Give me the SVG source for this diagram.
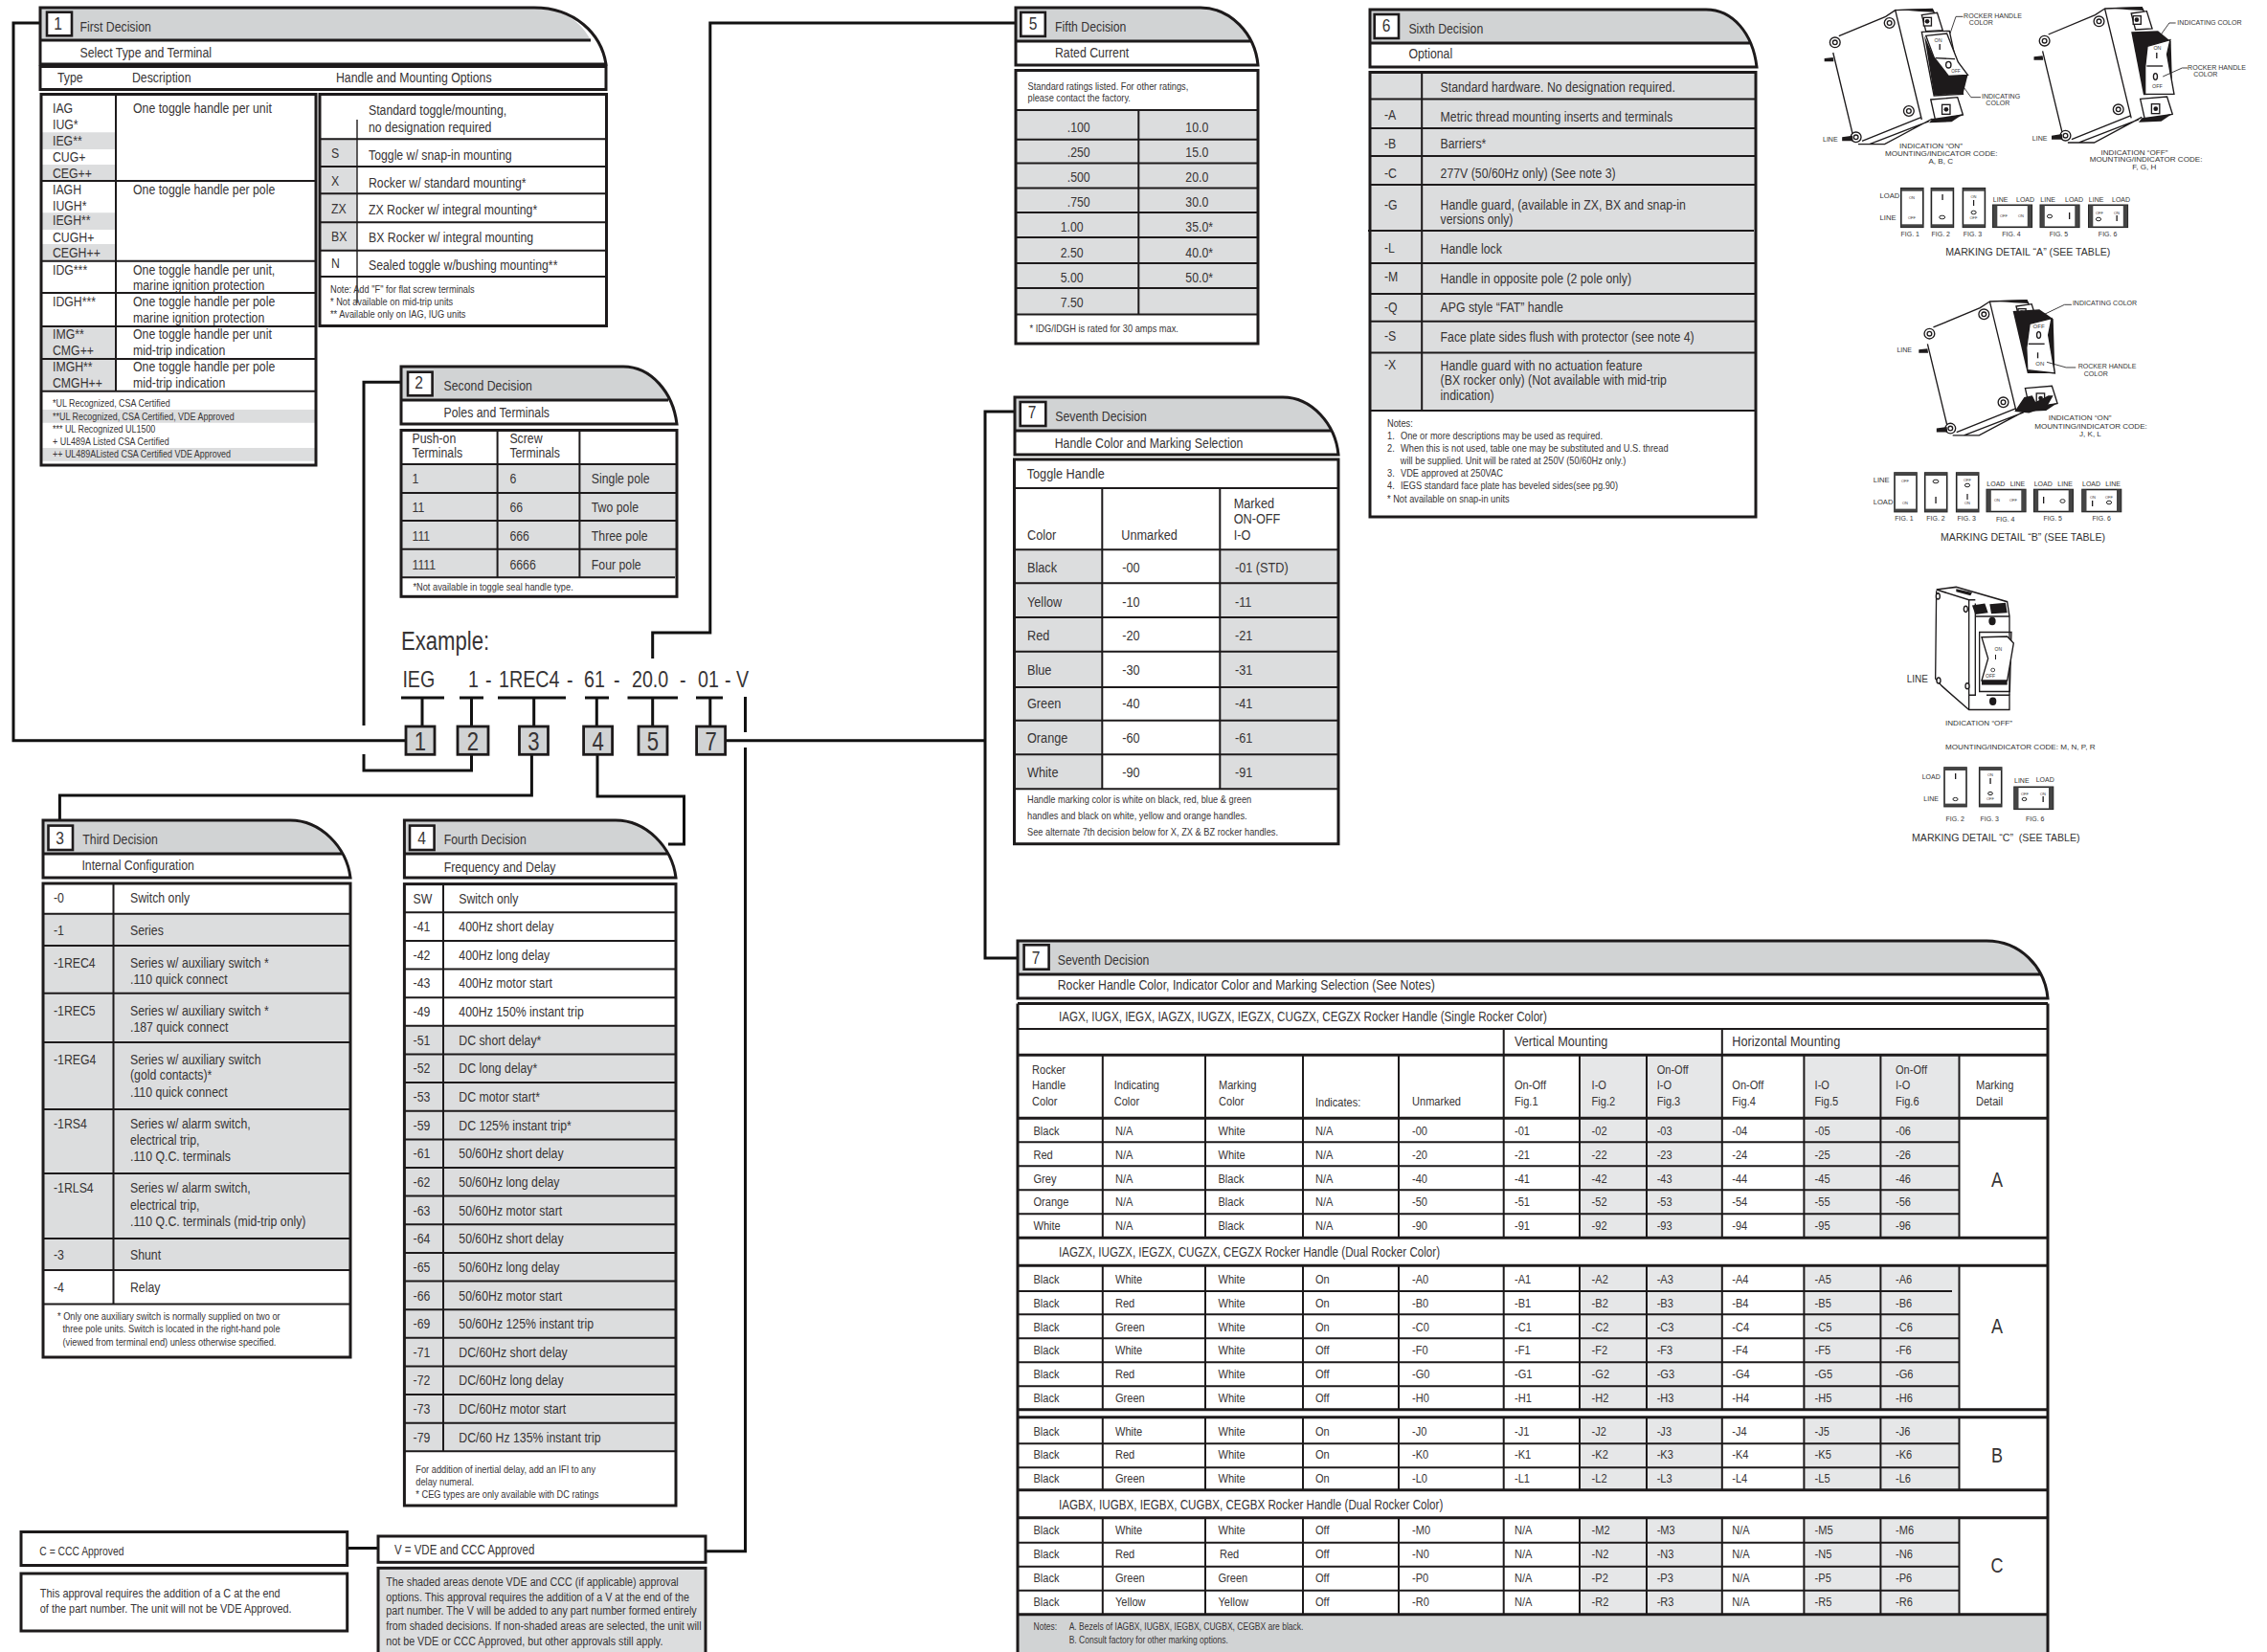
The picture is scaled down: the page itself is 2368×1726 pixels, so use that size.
<svg xmlns="http://www.w3.org/2000/svg" width="2368" height="1726" viewBox="0 0 2368 1726">
<style>
text{font-family:"Liberation Sans",Arial,sans-serif;fill:#373435;font-size:15px;transform-box:fill-box;transform-origin:0 0;transform:scaleX(.82)}
.num,.big,.m{transform-origin:50% 0}
.o{fill:none;stroke:#1d1a1b;stroke-width:3}
.i{fill:none;stroke:#1d1a1b;stroke-width:2}
.n{fill:none;stroke:#1d1a1b;stroke-width:1.4}
.h{fill:#d1d3d4}
.g{fill:#dcddde}
.l{fill:#e6e7e8}
.c{fill:none;stroke:#111;stroke-width:3}
.nb{fill:#fff;stroke:#1d1a1b;stroke-width:2.6}
.gb{fill:#d1d3d4;stroke:#1d1a1b;stroke-width:2.8}
.num{font-size:19px;text-anchor:middle}
.big{font-size:27px;text-anchor:middle}
.ex{font-size:24px}
.f11{font-size:11.3px}
.f10{font-size:10.9px}
.f13{font-size:13.3px}
.f131{font-size:13.1px}
.f135{font-size:13.5px}
.f142{font-size:14.2px}
.f105{font-size:10.4px}
.f155{font-size:15.5px}
.a{font-size:7px;fill:#333;transform:none}
.ac{font-size:8.1px;fill:#333;transform:none}
.a3{font-size:21px;fill:#333;transform:none}
.a4{font-size:24px;fill:#333;transform:none}
.am{font-size:10.6px;fill:#333;transform:none}
.at{font-size:4px;fill:#333;text-anchor:middle;transform:none}
.m{text-anchor:middle}
.d{fill:#1d1a1b}
.w{fill:#fff;stroke:#1d1a1b;stroke-width:4}
.u{fill:none;stroke:#1d1a1b;stroke-width:4}
.t{fill:none;stroke:#1d1a1b;stroke-width:2.5}
.fl{fill:#fff;stroke:#222;stroke-width:1.6}
.fb{fill:#444}
</style>
<defs>
<g id="brk">
<path class="u" d="M222,165L285,430M240,113L385,52L415,32L497,375M415,32L530,28L560,95"/>
<path class="u" d="M300,452H382L530,372M312,442L495,368M335,452L520,380"/>
<circle class="w" cx="228" cy="133" r="16"/><circle class="w" cx="228" cy="133" r="7"/>
<circle class="w" cx="397" cy="72" r="16"/><circle class="w" cx="397" cy="72" r="7"/>
<circle class="w" cx="457" cy="348" r="16"/><circle class="w" cx="457" cy="348" r="7"/>
<circle class="w" cx="293" cy="430" r="16"/><circle class="w" cx="293" cy="430" r="7"/>
<path class="w" d="M497,47L545,40L562,95L510,98Z"/><rect class="w" x="503" y="55" width="24" height="26"/><circle class="d" cx="514" cy="67" r="7"/>
<path class="d" d="M195,183L222,180L224,193L195,193ZM250,430L282,425L284,442L250,442Z"/>
<path class="d" d="M420,30L530,27L537,38L490,36Z"/>
</g>
<g id="bt"><path class="w" d="M525,312L608,305L625,360L540,380Z"/><rect class="w" x="560" y="328" width="25" height="30"/><circle class="d" cx="573" cy="343" r="7"/><path class="d" d="M530,372L625,358L590,382L520,385Z"/></g>
<g id="fv"><rect class="fl" x="0" y="0" width="23" height="40.6"/><rect class="fb" x="0" y="0" width="23" height="3"/><rect class="fb" x="0" y="37.6" width="23" height="3"/></g>
<g id="fh"><rect class="fl" x="0" y="0" width="40.5" height="23"/><rect class="fb" x="0" y="0" width="4.5" height="23"/><rect class="fb" x="36" y="0" width="4.5" height="23"/></g>
</defs>
<rect width="2368" height="1726" fill="#fff"/>

<g id="connectors">
<path class="c" d="M424,773.7H14V24H42"/>
<path class="c" d="M419,399.3H380V758M380,788V805H492.5V788"/>
<path class="c" d="M419,729H464M480,729H505M520,729H591M611,729H636M655.5,729H708M727,729H755"/>
<path class="c" d="M441,729V759M492.5,729V759M557.7,729V759M623.3,729V759M681.7,729V759M741.8,729V759"/>
<path class="c" d="M681.7,688V661H741.8V24H1061"/>
<path class="c" d="M757.4,773.7H1029M1060,430H1029V1001H1063"/>
<path class="c" d="M555.4,788V831H62.4V857"/>
<path class="c" d="M624,788V832H714.5V882H698"/>
<path class="c" d="M778.5,728V765M778.5,781V1620.7H737"/>
<path class="c" d="M362.7,1617.4H395"/>
</g>

<g id="example">
<text x="419" y="679.3" style="font-size:27px">Example:</text>
<text class="ex" x="420.4" y="718.3">IEG</text><text class="ex" x="489" y="718.3">1</text><text class="ex" x="507" y="718.3">-</text><text class="ex" x="521" y="718.3">1REC4</text><text class="ex" x="592" y="718.3">-</text><text class="ex" x="610" y="718.3">61</text><text class="ex" x="641" y="718.3">-</text><text class="ex" x="660" y="718.3">20.0</text><text class="ex" x="710" y="718.3">-</text><text class="ex" x="729" y="718.3">01</text><text class="ex" x="757" y="718.3">-</text><text class="ex" x="769" y="718.3">V</text>
<rect class="gb" x="424" y="759" width="30" height="29.3"/><text class="big" x="439" y="784">1</text>
<rect class="gb" x="478" y="759" width="32" height="29.3"/><text class="big" x="494" y="784">2</text>
<rect class="gb" x="542.5" y="759" width="30" height="29.3"/><text class="big" x="557.5" y="784">3</text>
<rect class="gb" x="609.6" y="759" width="30" height="29.3"/><text class="big" x="624.6" y="784">4</text>
<rect class="gb" x="667" y="759" width="30" height="29.3"/><text class="big" x="682" y="784">5</text>
<rect class="gb" x="727.6" y="759" width="30" height="29.3"/><text class="big" x="742.6" y="784">7</text>
</g>

<g id="panel1">
<path class="h" d="M42,8H558C590,8 608,25 617,42H42Z"/>
<path class="o" d="M42,8H558C600,8 628,35 633,67H42ZM42,42H617"/>
<rect class="nb" x="49" y="12.7" width="26" height="24.6"/><text class="num" x="60.6" y="31">1</text>
<text x="83.5" y="33.3">First Decision</text><text x="83.5" y="60">Select Type and Terminal</text>
<rect class="o" x="42" y="69.5" width="591" height="24"/>
<text x="60" y="86">Type</text><text x="138" y="86">Description</text><text x="351" y="86">Handle and Mounting Options</text>
<path class="g" d="M44,138.3H120V156H44ZM44,172H120V189H44ZM44,222.3H120V240H44ZM44,255H120V272.7H44ZM44,341H120V408.7H44ZM44,428H329V441.7H44ZM44,468H329V481.7H44Z"/>
<rect class="o" x="43" y="98.5" width="287" height="387.5"/>
<path class="i" d="M121,98.5V408.7M43,189H330M43,272.7H330M43,306H330M43,341H330M43,375H330M43,408.7H330"/>
<text x="55" y="117.7">IAG</text><text x="55" y="135">IUG*</text><text x="55" y="151.7">IEG**</text><text x="55" y="168.7">CUG+</text><text x="55" y="185.7">CEG++</text>
<text x="55" y="202.7">IAGH</text><text x="55" y="220">IUGH*</text><text x="55" y="235.3">IEGH**</text><text x="55" y="252.7">CUGH+</text><text x="55" y="269.3">CEGH++</text>
<text x="55" y="286.7">IDG***</text><text x="55" y="320.3">IDGH***</text><text x="55" y="353.7">IMG**</text><text x="55" y="370.7">CMG++</text><text x="55" y="387.7">IMGH**</text><text x="55" y="404.7">CMGH++</text>
<text x="139" y="117.7">One toggle handle per unit</text><text x="139" y="202.7">One toggle handle per pole</text>
<text x="139" y="286.7">One toggle handle per unit,</text><text x="139" y="303.3">marine ignition protection</text>
<text x="139" y="320.3">One toggle handle per pole</text><text x="139" y="337.3">marine ignition protection</text>
<text x="139" y="353.7">One toggle handle per unit</text><text x="139" y="370.7">mid-trip indication</text>
<text x="139" y="387.7">One toggle handle per pole</text><text x="139" y="404.7">mid-trip indication</text>
<text class="f10" x="55" y="425">*UL Recognized, CSA Certified</text><text class="f10" x="55" y="439">**UL Recognized, CSA Certified, VDE Approved</text><text class="f10" x="55" y="452.3">*** UL Recognized UL1500</text><text class="f10" x="55" y="465">+ UL489A Listed CSA Certified</text><text class="f10" x="55" y="477.7">++ UL489AListed CSA Certified VDE Approved</text>
</g>

<g id="panel1b">
<path class="g" d="M335,145.3H373V261.7H335Z"/>
<rect class="o" x="334" y="98.5" width="299.5" height="242"/>
<path class="i" d="M334,145.3H633M334,174H633M334,202.3H633M334,232.3H633M334,261.7H633M334,289H633"/>
<path class="n" d="M373,125V316.7"/>
<text x="385" y="120">Standard toggle/mounting,</text><text x="385" y="138.3">no designation required</text>
<text x="346" y="165">S</text><text x="385" y="166.7">Toggle w/ snap-in mounting</text>
<text x="346" y="194">X</text><text x="385" y="195.7">Rocker w/ standard mounting*</text>
<text x="346" y="223.3">ZX</text><text x="385" y="224">ZX Rocker w/ integral mounting*</text>
<text x="346" y="251.7">BX</text><text x="385" y="252.7">BX Rocker w/ integral mounting</text>
<text x="346" y="280">N</text><text x="385" y="282">Sealed toggle w/bushing mounting**</text>
<text class="f11" x="345" y="305.7">Note: Add "F" for flat screw terminals</text><text class="f11" x="345" y="319">* Not available on mid-trip units</text><text class="f11" x="345" y="331.7">** Available only on IAG, IUG units</text>
</g>

<g id="panel2">
<path class="h" d="M419,383H651C672,383 690,398 698,418H419Z"/>
<path class="o" d="M419,383H651C680,383 703,410 707,443H419ZM419,418H698"/>
<rect class="nb" x="426" y="388.7" width="25.6" height="24.6"/><text class="num" x="437.6" y="406">2</text>
<text x="463.6" y="408.3">Second Decision</text><text x="463.6" y="436">Poles and Terminals</text>
<rect class="g" x="420" y="485" width="286" height="118"/>
<rect class="o" x="419" y="449.5" width="288" height="173.8"/>
<path class="i" d="M419,485H707M419,515H707M419,544H707M419,573.7H707M419,603.3H705M519.6,449.5V603.3M605.4,449.5V603.3"/>
<text x="430.5" y="462.7">Push-on</text><text x="430.5" y="477.7">Terminals</text><text x="532.4" y="462.7">Screw</text><text x="532.4" y="477.7">Terminals</text>
<text x="430.5" y="505">1</text><text x="532.4" y="505">6</text><text x="617.8" y="505">Single pole</text>
<text x="430.5" y="535">11</text><text x="532.4" y="535">66</text><text x="617.8" y="535">Two pole</text>
<text x="430.5" y="565">111</text><text x="532.4" y="565">666</text><text x="617.8" y="565">Three pole</text>
<text x="430.5" y="595">1111</text><text x="532.4" y="595">6666</text><text x="617.8" y="595">Four pole</text>
<text class="f11" x="431.4" y="616.7">*Not available in toggle seal handle type.</text>
</g>

<g id="panel3">
<path class="h" d="M45,857H303C328,857 350,873 358,892H45Z"/>
<path class="o" d="M45,857H303C335,857 362,885 366,917H45ZM45,892H358"/>
<rect class="nb" x="50.5" y="862.6" width="25.5" height="25.4"/><text class="num" x="62.5" y="882">3</text>
<text x="86.3" y="882.4">Third Decision</text><text x="85.4" y="909.5">Internal Configuration</text>
<rect class="g" x="46" y="954.7" width="319" height="372.3"/>
<rect class="o" x="45" y="923" width="321" height="495"/>
<path class="i" d="M118.5,923V1362.6M45,954.7H366M45,988H366M45,1037.7H366M45,1089H366M45,1159H366M45,1226H366M45,1294H366M45,1327H366M45,1362.6H366"/>
<text x="56" y="943.4">-0</text><text x="136" y="943.4">Switch only</text>
<text x="56" y="977.3">-1</text><text x="136" y="977.3">Series</text>
<text x="56" y="1010.6">-1REC4</text><text x="136" y="1010.6">Series w/ auxiliary switch *</text><text x="136" y="1027.6">.110 quick connect</text>
<text x="56" y="1061.5">-1REC5</text><text x="136" y="1061.5">Series w/ auxiliary switch *</text><text x="136" y="1078.4">.187 quick connect</text>
<text x="56" y="1112.3">-1REG4</text><text x="136" y="1112.3">Series w/ auxiliary switch</text><text x="136" y="1128.5">(gold contacts)*</text><text x="136" y="1145.6">.110 quick connect</text>
<text x="56" y="1179">-1RS4</text><text x="136" y="1179">Series w/ alarm switch,</text><text x="136" y="1196.5">electrical trip,</text><text x="136" y="1213.4">.110 Q.C. terminals</text>
<text x="56" y="1246">-1RLS4</text><text x="136" y="1246">Series w/ alarm switch,</text><text x="136" y="1263.7">electrical trip,</text><text x="136" y="1280.7">.110 Q.C. terminals (mid-trip only)</text>
<text x="56" y="1316">-3</text><text x="136" y="1316">Shunt</text>
<text x="56" y="1349.6">-4</text><text x="136" y="1349.6">Relay</text>
<text class="f11" x="60" y="1379.5">*  Only one auxiliary switch is normally supplied on two or</text><text class="f11" x="65.5" y="1392.5">three pole units. Switch is located in the right-hand pole</text><text class="f11" x="65.5" y="1406">(viewed from terminal end) unless otherwise specified.</text>
</g>

<g id="panel4">
<path class="h" d="M422.4,857H643C668,857 690,873 698,892H422.4Z"/>
<path class="o" d="M422.4,857H643C675,857 702,885 706,917H422.4ZM422.4,892H698"/>
<rect class="nb" x="428" y="862.6" width="25.6" height="25.4"/><text class="num" x="440.5" y="882">4</text>
<text x="463.7" y="882.4">Fourth Decision</text><text x="463.7" y="910.6">Frequency and Delay</text>
<rect class="g" x="423" y="1071" width="282" height="445.3"/>
<rect class="o" x="422.4" y="923.6" width="283.6" height="649.4"/>
<path class="i" d="M463,923.6V1516.3M422,953.2H706M422,982.9H706M422,1012.5H706M422,1042.2H706M422,1071.8H706M422,1101.4H706M422,1131.1H706M422,1160.7H706M422,1190.4H706M422,1220H706M422,1249.6H706M422,1279.3H706M422,1308.9H706M422,1338.6H706M422,1368.2H706M422,1397.8H706M422,1427.5H706M422,1457.1H706M422,1486.8H706M422,1516.3H706"/>
<text x="431.6" y="943.6">SW</text><text x="479.3" y="943.6">Switch only</text>
<text x="431.6" y="973.2">-41</text><text x="479.3" y="973.2">400Hz short delay</text>
<text x="431.6" y="1002.9">-42</text><text x="479.3" y="1002.9">400Hz long delay</text>
<text x="431.6" y="1032.5">-43</text><text x="479.3" y="1032.5">400Hz motor start</text>
<text x="431.6" y="1062.2">-49</text><text x="479.3" y="1062.2">400Hz 150% instant trip</text>
<text x="431.6" y="1091.8">-51</text><text x="479.3" y="1091.8">DC short delay*</text>
<text x="431.6" y="1121.4">-52</text><text x="479.3" y="1121.4">DC long delay*</text>
<text x="431.6" y="1151.1">-53</text><text x="479.3" y="1151.1">DC motor start*</text>
<text x="431.6" y="1180.7">-59</text><text x="479.3" y="1180.7">DC 125% instant trip*</text>
<text x="431.6" y="1210.4">-61</text><text x="479.3" y="1210.4">50/60Hz short delay</text>
<text x="431.6" y="1240">-62</text><text x="479.3" y="1240">50/60Hz long delay</text>
<text x="431.6" y="1269.6">-63</text><text x="479.3" y="1269.6">50/60Hz motor start</text>
<text x="431.6" y="1299.3">-64</text><text x="479.3" y="1299.3">50/60Hz short delay</text>
<text x="431.6" y="1328.9">-65</text><text x="479.3" y="1328.9">50/60Hz long delay</text>
<text x="431.6" y="1358.6">-66</text><text x="479.3" y="1358.6">50/60Hz motor start</text>
<text x="431.6" y="1388.2">-69</text><text x="479.3" y="1388.2">50/60Hz 125% instant trip</text>
<text x="431.6" y="1417.8">-71</text><text x="479.3" y="1417.8">DC/60Hz short delay</text>
<text x="431.6" y="1447.5">-72</text><text x="479.3" y="1447.5">DC/60Hz long delay</text>
<text x="431.6" y="1477.1">-73</text><text x="479.3" y="1477.1">DC/60Hz motor start</text>
<text x="431.6" y="1506.8">-79</text><text x="479.3" y="1506.8">DC/60 Hz 135% instant trip</text>
<text class="f11" x="434.3" y="1538.9">For addition of inertial delay, add an IFI to any</text><text class="f11" x="434.3" y="1552">delay numeral.</text><text class="f11" x="434.3" y="1565">* CEG types are only available with DC ratings</text>
</g>

<g id="approvalC">
<rect class="o" x="22" y="1600.5" width="340.7" height="35"/><text style="font-size:12.6px" x="41.3" y="1625">C = CCC Approved</text>
<rect class="o" x="22" y="1644" width="340.7" height="60"/><text class="f13" x="41.8" y="1669.4">This approval requires the addition of a C at the end</text><text class="f13" x="41.8" y="1684.6">of the part number.  The unit will not be VDE Approved.</text>
</g>
<g id="approvalV">
<rect class="o" x="395" y="1605" width="342" height="27.3"/><text style="font-size:14px" x="412" y="1624.3">V = VDE  and CCC Approved</text>
<rect x="395" y="1638.3" width="342" height="90" fill="#dcddde" stroke="#1d1a1b" stroke-width="3"/>
<text class="f131" x="403.3" y="1657.3">The shaded areas denote VDE and CCC (if applicable) approval</text>
<text class="f131" x="403.3" y="1672.7">options. This approval requires the addition of a V at the end of the</text>
<text class="f131" x="403.3" y="1687.3">part number. The V will be added to any part number formed entirely</text>
<text class="f131" x="403.3" y="1702.7">from shaded decisions. If non-shaded areas are selected, the unit will</text>
<text class="f131" x="403.3" y="1719">not be VDE or CCC Approved, but other approvals still apply.</text>
</g>

<g id="panel5">
<path class="h" d="M1061,8H1254C1278,8 1297,23 1306,43H1061Z"/>
<path class="o" d="M1061,8H1254C1285,8 1311,35 1314,68H1061ZM1061,43H1306"/>
<rect class="nb" x="1066.3" y="12.9" width="25.5" height="25"/><text class="num" x="1079" y="31.4">5</text>
<text x="1102" y="33">Fifth Decision</text><text x="1102" y="60">Rated Current</text>
<rect class="g" x="1062" y="115" width="251" height="213.6"/>
<rect class="o" x="1061" y="73.5" width="253" height="285.5"/>
<path class="i" d="M1061,115H1314M1061,145.7H1314M1061,170.4H1314M1061,196.4H1314M1061,222H1314M1061,248H1314M1061,275H1314M1061,301H1314M1061,328.6H1314M1189.3,115V328.6"/>
<text class="f11" x="1073.5" y="94">Standard ratings listed. For other ratings,</text><text class="f11" x="1073.5" y="106.4">please contact the factory.</text>
<text x="1114.8" y="138">.100</text><text x="1238.3" y="138">10.0</text>
<text x="1114.8" y="164">.250</text><text x="1238.3" y="164">15.0</text>
<text x="1114.8" y="190.4">.500</text><text x="1238.3" y="190.4">20.0</text>
<text x="1114.8" y="216">.750</text><text x="1238.3" y="216">30.0</text>
<text x="1107.7" y="242">1.00</text><text x="1238.3" y="242">35.0*</text>
<text x="1107.7" y="268.6">2.50</text><text x="1238.3" y="268.6">40.0*</text>
<text x="1107.7" y="295">5.00</text><text x="1238.3" y="295">50.0*</text>
<text x="1107.7" y="321">7.50</text>
<text class="f11" x="1075.5" y="347">* IDG/IDGH is rated for 30 amps max.</text>
</g>

<g id="panel6">
<path class="h" d="M1431,10H1782C1803,10 1820,24 1829,45H1431Z"/>
<path class="o" d="M1431,10H1782C1810,10 1831,35 1835,70H1431ZM1431,45H1829"/>
<rect class="nb" x="1435.7" y="15" width="25.3" height="25"/><text class="num" x="1448" y="33">6</text>
<text x="1471.4" y="35">Sixth Decision</text><text x="1471.4" y="61.4">Optional</text>
<rect class="g" x="1431" y="75.5" width="403" height="353.5"/>
<rect class="o" x="1431" y="75.5" width="403" height="464.5"/>
<path class="i" d="M1485.2,75.5V429M1431,103.6H1834M1431,134H1834M1431,163H1834M1431,193H1834M1429,241H1832M1431,275H1834M1431,307H1834M1431,335.7H1834M1431,368.6H1834M1431,429H1834"/>
<text x="1504.6" y="96.4">Standard hardware. No designation required.</text>
<text x="1446" y="125">-A</text><text x="1504.6" y="126.8">Metric thread mounting inserts and terminals</text>
<text x="1446" y="155">-B</text><text x="1504.6" y="155.4">Barriers*</text>
<text x="1446" y="186.4">-C</text><text x="1504.6" y="185.7">277V (50/60Hz only) (See note 3)</text>
<text x="1446" y="218.6">-G</text><text x="1504.6" y="218.6">Handle guard, (available in ZX, BX and snap-in</text><text x="1504.6" y="234">versions only)</text>
<text x="1446" y="263.6">-L</text><text x="1504.6" y="265.4">Handle lock</text>
<text x="1446" y="293.6">-M</text><text x="1504.6" y="296.4">Handle in opposite pole (2 pole only)</text>
<text x="1446" y="325.7">-Q</text><text x="1504.6" y="325.7">APG style “FAT” handle</text>
<text x="1446" y="356.4">-S</text><text x="1504.6" y="357">Face plate sides flush with protector (see note 4)</text>
<text x="1446" y="385.7">-X</text><text x="1504.6" y="387.5">Handle guard with no actuation feature</text><text x="1504.6" y="402.5">(BX rocker only) (Not available with mid-trip</text><text x="1504.6" y="418">indication)</text>
<text class="f11" x="1449" y="446.4">Notes:</text>
<text class="f11" x="1449" y="459.3">1.</text><text class="f11" x="1463" y="459.3">One or more descriptions may be used as required.</text>
<text class="f11" x="1449" y="472">2.</text><text class="f11" x="1463" y="472">When this is not used, table one may be substituted and U.S. thread</text><text class="f11" x="1463" y="485">will be supplied. Unit will be rated at 250V (50/60Hz only.)</text>
<text class="f11" x="1449" y="498">3.</text><text class="f11" x="1463" y="498">VDE approved at 250VAC</text>
<text class="f11" x="1449" y="511.4">4.</text><text class="f11" x="1463" y="511.4">IEGS standard face plate has beveled sides(see pg.90)</text>
<text class="f11" x="1449" y="525">* Not available on snap-in units</text>
</g>

<g id="panel7a">
<path class="h" d="M1060,415H1340C1362,415 1382,430 1390,450H1060Z"/>
<path class="o" d="M1060,415H1340C1370,415 1395,443 1398,475H1060ZM1060,450H1390"/>
<rect class="nb" x="1065.7" y="420" width="26.6" height="25"/><text class="num" x="1078" y="437.3">7</text>
<text x="1102.3" y="440">Seventh Decision</text><text x="1101.7" y="467.7">Handle Color and Marking Selection</text>
<path class="g" d="M1060,574.3H1151V824H1060ZM1274,574.3H1397V824H1274Z"/>
<rect class="o" x="1059.5" y="480" width="338.5" height="401.7"/>
<path class="i" d="M1059,510H1398M1059,574.3H1398M1059,609.3H1398M1059,645H1398M1059,680.7H1398M1059,718H1398M1059,752.7H1398M1059,788.3H1398M1059,824.3H1398M1151.3,510V824.3M1274.3,510V824.3"/>
<text class="f155" x="1072.7" y="500">Toggle Handle</text>
<text class="f155" x="1073" y="564">Color</text><text class="f155" x="1171.3" y="564">Unmarked</text><text class="f155" x="1288.7" y="531">Marked</text><text class="f155" x="1288.7" y="547.3">ON-OFF</text><text class="f155" x="1288.7" y="564">I-O</text>
<text class="f155" x="1073" y="598.3">Black</text><text class="f155" x="1172.3" y="598.3">-00</text><text class="f155" x="1290" y="598.3">-01 (STD)</text>
<text class="f155" x="1073" y="634.3">Yellow</text><text class="f155" x="1172.3" y="634.3">-10</text><text class="f155" x="1290" y="634.3">-11</text>
<text class="f155" x="1073" y="669.3">Red</text><text class="f155" x="1172.3" y="669.3">-20</text><text class="f155" x="1290" y="669.3">-21</text>
<text class="f155" x="1073" y="705.3">Blue</text><text class="f155" x="1172.3" y="705.3">-30</text><text class="f155" x="1290" y="705.3">-31</text>
<text class="f155" x="1073" y="740.3">Green</text><text class="f155" x="1172.3" y="740.3">-40</text><text class="f155" x="1290" y="740.3">-41</text>
<text class="f155" x="1073" y="776">Orange</text><text class="f155" x="1172.3" y="776">-60</text><text class="f155" x="1290" y="776">-61</text>
<text class="f155" x="1073" y="812">White</text><text class="f155" x="1172.3" y="812">-90</text><text class="f155" x="1290" y="812">-91</text>
<text class="f11" x="1073" y="838.7">Handle marking color is white on black, red, blue &amp; green</text><text class="f11" x="1073" y="855.7">handles and black on white, yellow and orange handles.</text><text class="f11" x="1073" y="872.7">See alternate 7th decision below for X, ZX &amp; BZ rocker handles.</text>
</g>

<g id="panel7b">
<path class="h" d="M1063,983H2075C2098,983 2121,998 2131,1018H1063Z"/>
<path class="o" d="M1063,983H2075C2110,983 2136,1010 2139,1043H1063ZM1063,1018H2131"/>
<rect class="nb" x="1069.6" y="987.3" width="26" height="25.4"/><text class="num" x="1082" y="1006.7">7</text>
<text x="1104.7" y="1007.7">Seventh Decision</text><text x="1104.7" y="1034.3">Rocker Handle Color, Indicator Color and Marking Selection (See Notes)</text>
<path class="l" d="M1650,1102.3H1798.8V1293.3H1650ZM1884.4,1102.3H2046.5V1293.3H1884.4ZM1650,1322.3H1798.8V1472.7H1650ZM1884.4,1322.3H2046.5V1472.7H1884.4ZM1650,1480.7H1798.8V1556.7H1650ZM1884.4,1480.7H2046.5V1556.7H1884.4ZM1650,1585.7H1798.8V1686.7H1650ZM1884.4,1585.7H2046.5V1686.7H1884.4Z"/>
<rect class="h" x="1063" y="1686.7" width="1076" height="40"/>
<path class="o" d="M1063,1048.5H2139M1063,1048.5V1726M2139,1048.5V1726M1063,1102.3H2139M1063,1168.3H2139M1063,1293.3H2139M1063,1322.3H2139M1063,1472.7H2139M1063,1480.7H2139M1063,1556.7H2139M1063,1585.7H2139M1063,1686.7H2139"/>
<path class="i" d="M1063,1075H2139M1063,1193.3H2046.5M1063,1218.3H2046.5M1063,1243.3H2046.5M1063,1268.3H2046.5M1063,1349H2039M1063,1373.3H2046.5M1063,1398.3H2046.5M1063,1423.3H2046.5M1063,1448.3H2046.5M1063,1508.3H2046.5M1063,1533.3H2046.5M1063,1611.7H2046.5M1063,1636.7H2046.5M1063,1661.7H2046.5"/>
<path class="i" d="M1151.8,1102.3V1293.3M1259,1102.3V1293.3M1361,1102.3V1293.3M1461,1102.3V1293.3M1570.7,1075V1293.3M1650,1102.3V1293.3M1720,1102.3V1293.3M1798.8,1075V1293.3M1884.4,1102.3V1293.3M1964.4,1102.3V1293.3M2046.5,1102.3V1293.3"/>
<path class="i" d="M1151.8,1322.3V1472.7M1259,1322.3V1472.7M1361,1322.3V1472.7M1461,1322.3V1472.7M1570.7,1322.3V1472.7M1650,1322.3V1472.7M1720,1322.3V1472.7M1798.8,1322.3V1472.7M1884.4,1322.3V1472.7M1964.4,1322.3V1472.7M2046.5,1322.3V1472.7"/>
<path class="i" d="M1151.8,1480.7V1556.7M1259,1480.7V1556.7M1361,1480.7V1556.7M1461,1480.7V1556.7M1570.7,1480.7V1556.7M1650,1480.7V1556.7M1720,1480.7V1556.7M1798.8,1480.7V1556.7M1884.4,1480.7V1556.7M1964.4,1480.7V1556.7M2046.5,1480.7V1556.7"/>
<path class="i" d="M1151.8,1585.7V1686.7M1259,1585.7V1686.7M1361,1585.7V1686.7M1461,1585.7V1686.7M1570.7,1585.7V1686.7M1650,1585.7V1686.7M1720,1585.7V1686.7M1798.8,1585.7V1686.7M1884.4,1585.7V1686.7M1964.4,1585.7V1686.7M2046.5,1585.7V1686.7"/>
<text class="f142" x="1106" y="1067.3">IAGX, IUGX, IEGX, IAGZX, IUGZX, IEGZX, CUGZX, CEGZX Rocker Handle (Single Rocker Color)</text>
<text class="f155" x="1582" y="1093.3">Vertical Mounting</text><text class="f155" x="1809.3" y="1093.3">Horizontal Mounting</text>
<text class="f135" x="1078" y="1121.7">Rocker</text><text class="f135" x="1078" y="1138.3">Handle</text><text class="f135" x="1078" y="1155">Color</text>
<text class="f135" x="1163.7" y="1138.3">Indicating</text><text class="f135" x="1163.7" y="1155">Color</text>
<text class="f135" x="1273" y="1138.3">Marking</text><text class="f135" x="1273" y="1155">Color</text>
<text class="f135" x="1374" y="1155.7">Indicates:</text><text class="f135" x="1475" y="1155">Unmarked</text>
<text class="f135" x="1582" y="1138.3">On-Off</text><text class="f135" x="1582" y="1155">Fig.1</text>
<text class="f135" x="1662.6" y="1138.3">I-O</text><text class="f135" x="1662.6" y="1155">Fig.2</text>
<text class="f135" x="1730.7" y="1121.7">On-Off</text><text class="f135" x="1730.7" y="1138.3">I-O</text><text class="f135" x="1730.7" y="1155">Fig.3</text>
<text class="f135" x="1809.3" y="1138.3">On-Off</text><text class="f135" x="1809.3" y="1155">Fig.4</text>
<text class="f135" x="1895.6" y="1138.3">I-O</text><text class="f135" x="1895.6" y="1155">Fig.5</text>
<text class="f135" x="1980" y="1121.7">On-Off</text><text class="f135" x="1980" y="1138.3">I-O</text><text class="f135" x="1980" y="1155">Fig.6</text>
<text class="f135" x="2064" y="1138.3">Marking</text><text class="f135" x="2064" y="1155">Detail</text>
<g id="rows">
<text class="f135" x="1079.5" y="1186">Black</text><text class="f135" x="1165" y="1186">N/A</text><text class="f135" x="1272.5" y="1186">White</text><text class="f135" x="1374" y="1186">N/A</text><text class="f135" x="1475" y="1186">-00</text><text class="f135" x="1582" y="1186">-01</text><text class="f135" x="1662.6" y="1186">-02</text><text class="f135" x="1730.7" y="1186">-03</text><text class="f135" x="1809.3" y="1186">-04</text><text class="f135" x="1895.6" y="1186">-05</text><text class="f135" x="1980" y="1186">-06</text>
<text class="f135" x="1079.5" y="1210.7">Red</text><text class="f135" x="1165" y="1210.7">N/A</text><text class="f135" x="1272.5" y="1210.7">White</text><text class="f135" x="1374" y="1210.7">N/A</text><text class="f135" x="1475" y="1210.7">-20</text><text class="f135" x="1582" y="1210.7">-21</text><text class="f135" x="1662.6" y="1210.7">-22</text><text class="f135" x="1730.7" y="1210.7">-23</text><text class="f135" x="1809.3" y="1210.7">-24</text><text class="f135" x="1895.6" y="1210.7">-25</text><text class="f135" x="1980" y="1210.7">-26</text>
<text class="f135" x="1079.5" y="1236">Grey</text><text class="f135" x="1165" y="1236">N/A</text><text class="f135" x="1272.5" y="1236">Black</text><text class="f135" x="1374" y="1236">N/A</text><text class="f135" x="1475" y="1236">-40</text><text class="f135" x="1582" y="1236">-41</text><text class="f135" x="1662.6" y="1236">-42</text><text class="f135" x="1730.7" y="1236">-43</text><text class="f135" x="1809.3" y="1236">-44</text><text class="f135" x="1895.6" y="1236">-45</text><text class="f135" x="1980" y="1236">-46</text>
<text class="f135" x="1079.5" y="1260">Orange</text><text class="f135" x="1165" y="1260">N/A</text><text class="f135" x="1272.5" y="1260">Black</text><text class="f135" x="1374" y="1260">N/A</text><text class="f135" x="1475" y="1260">-50</text><text class="f135" x="1582" y="1260">-51</text><text class="f135" x="1662.6" y="1260">-52</text><text class="f135" x="1730.7" y="1260">-53</text><text class="f135" x="1809.3" y="1260">-54</text><text class="f135" x="1895.6" y="1260">-55</text><text class="f135" x="1980" y="1260">-56</text>
<text class="f135" x="1079.5" y="1285">White</text><text class="f135" x="1165" y="1285">N/A</text><text class="f135" x="1272.5" y="1285">Black</text><text class="f135" x="1374" y="1285">N/A</text><text class="f135" x="1475" y="1285">-90</text><text class="f135" x="1582" y="1285">-91</text><text class="f135" x="1662.6" y="1285">-92</text><text class="f135" x="1730.7" y="1285">-93</text><text class="f135" x="1809.3" y="1285">-94</text><text class="f135" x="1895.6" y="1285">-95</text><text class="f135" x="1980" y="1285">-96</text>
<text class="f142" x="1106" y="1312.7">IAGZX, IUGZX, IEGZX, CUGZX, CEGZX Rocker Handle (Dual Rocker Color)</text>
<text class="f135" x="1079.5" y="1341">Black</text><text class="f135" x="1165" y="1341">White</text><text class="f135" x="1272.5" y="1341">White</text><text class="f135" x="1374" y="1341">On</text><text class="f135" x="1475" y="1341">-A0</text><text class="f135" x="1582" y="1341">-A1</text><text class="f135" x="1662.6" y="1341">-A2</text><text class="f135" x="1730.7" y="1341">-A3</text><text class="f135" x="1809.3" y="1341">-A4</text><text class="f135" x="1895.6" y="1341">-A5</text><text class="f135" x="1980" y="1341">-A6</text>
<text class="f135" x="1079.5" y="1366">Black</text><text class="f135" x="1165" y="1366">Red</text><text class="f135" x="1272.5" y="1366">White</text><text class="f135" x="1374" y="1366">On</text><text class="f135" x="1475" y="1366">-B0</text><text class="f135" x="1582" y="1366">-B1</text><text class="f135" x="1662.6" y="1366">-B2</text><text class="f135" x="1730.7" y="1366">-B3</text><text class="f135" x="1809.3" y="1366">-B4</text><text class="f135" x="1895.6" y="1366">-B5</text><text class="f135" x="1980" y="1366">-B6</text>
<text class="f135" x="1079.5" y="1390.7">Black</text><text class="f135" x="1165" y="1390.7">Green</text><text class="f135" x="1272.5" y="1390.7">White</text><text class="f135" x="1374" y="1390.7">On</text><text class="f135" x="1475" y="1390.7">-C0</text><text class="f135" x="1582" y="1390.7">-C1</text><text class="f135" x="1662.6" y="1390.7">-C2</text><text class="f135" x="1730.7" y="1390.7">-C3</text><text class="f135" x="1809.3" y="1390.7">-C4</text><text class="f135" x="1895.6" y="1390.7">-C5</text><text class="f135" x="1980" y="1390.7">-C6</text>
<text class="f135" x="1079.5" y="1415">Black</text><text class="f135" x="1165" y="1415">White</text><text class="f135" x="1272.5" y="1415">White</text><text class="f135" x="1374" y="1415">Off</text><text class="f135" x="1475" y="1415">-F0</text><text class="f135" x="1582" y="1415">-F1</text><text class="f135" x="1662.6" y="1415">-F2</text><text class="f135" x="1730.7" y="1415">-F3</text><text class="f135" x="1809.3" y="1415">-F4</text><text class="f135" x="1895.6" y="1415">-F5</text><text class="f135" x="1980" y="1415">-F6</text>
<text class="f135" x="1079.5" y="1440">Black</text><text class="f135" x="1165" y="1440">Red</text><text class="f135" x="1272.5" y="1440">White</text><text class="f135" x="1374" y="1440">Off</text><text class="f135" x="1475" y="1440">-G0</text><text class="f135" x="1582" y="1440">-G1</text><text class="f135" x="1662.6" y="1440">-G2</text><text class="f135" x="1730.7" y="1440">-G3</text><text class="f135" x="1809.3" y="1440">-G4</text><text class="f135" x="1895.6" y="1440">-G5</text><text class="f135" x="1980" y="1440">-G6</text>
<text class="f135" x="1079.5" y="1465">Black</text><text class="f135" x="1165" y="1465">Green</text><text class="f135" x="1272.5" y="1465">White</text><text class="f135" x="1374" y="1465">Off</text><text class="f135" x="1475" y="1465">-H0</text><text class="f135" x="1582" y="1465">-H1</text><text class="f135" x="1662.6" y="1465">-H2</text><text class="f135" x="1730.7" y="1465">-H3</text><text class="f135" x="1809.3" y="1465">-H4</text><text class="f135" x="1895.6" y="1465">-H5</text><text class="f135" x="1980" y="1465">-H6</text>
<text class="f135" x="1079.5" y="1500">Black</text><text class="f135" x="1165" y="1500">White</text><text class="f135" x="1272.5" y="1500">White</text><text class="f135" x="1374" y="1500">On</text><text class="f135" x="1475" y="1500">-J0</text><text class="f135" x="1582" y="1500">-J1</text><text class="f135" x="1662.6" y="1500">-J2</text><text class="f135" x="1730.7" y="1500">-J3</text><text class="f135" x="1809.3" y="1500">-J4</text><text class="f135" x="1895.6" y="1500">-J5</text><text class="f135" x="1980" y="1500">-J6</text>
<text class="f135" x="1079.5" y="1524.3">Black</text><text class="f135" x="1165" y="1524.3">Red</text><text class="f135" x="1272.5" y="1524.3">White</text><text class="f135" x="1374" y="1524.3">On</text><text class="f135" x="1475" y="1524.3">-K0</text><text class="f135" x="1582" y="1524.3">-K1</text><text class="f135" x="1662.6" y="1524.3">-K2</text><text class="f135" x="1730.7" y="1524.3">-K3</text><text class="f135" x="1809.3" y="1524.3">-K4</text><text class="f135" x="1895.6" y="1524.3">-K5</text><text class="f135" x="1980" y="1524.3">-K6</text>
<text class="f135" x="1079.5" y="1549.3">Black</text><text class="f135" x="1165" y="1549.3">Green</text><text class="f135" x="1272.5" y="1549.3">White</text><text class="f135" x="1374" y="1549.3">On</text><text class="f135" x="1475" y="1549.3">-L0</text><text class="f135" x="1582" y="1549.3">-L1</text><text class="f135" x="1662.6" y="1549.3">-L2</text><text class="f135" x="1730.7" y="1549.3">-L3</text><text class="f135" x="1809.3" y="1549.3">-L4</text><text class="f135" x="1895.6" y="1549.3">-L5</text><text class="f135" x="1980" y="1549.3">-L6</text>
<text class="f142" x="1106" y="1576.7">IAGBX, IUGBX, IEGBX, CUGBX, CEGBX Rocker Handle (Dual Rocker Color)</text>
<text class="f135" x="1079.5" y="1603.3">Black</text><text class="f135" x="1165" y="1603.3">White</text><text class="f135" x="1272.5" y="1603.3">White</text><text class="f135" x="1374" y="1603.3">Off</text><text class="f135" x="1475" y="1603.3">-M0</text><text class="f135" x="1582" y="1603.3">N/A</text><text class="f135" x="1662.6" y="1603.3">-M2</text><text class="f135" x="1730.7" y="1603.3">-M3</text><text class="f135" x="1809.3" y="1603.3">N/A</text><text class="f135" x="1895.6" y="1603.3">-M5</text><text class="f135" x="1980" y="1603.3">-M6</text>
<text class="f135" x="1079.5" y="1628.3">Black</text><text class="f135" x="1165" y="1628.3">Red</text><text class="f135" x="1274" y="1628.3">Red</text><text class="f135" x="1374" y="1628.3">Off</text><text class="f135" x="1475" y="1628.3">-N0</text><text class="f135" x="1582" y="1628.3">N/A</text><text class="f135" x="1662.6" y="1628.3">-N2</text><text class="f135" x="1730.7" y="1628.3">-N3</text><text class="f135" x="1809.3" y="1628.3">N/A</text><text class="f135" x="1895.6" y="1628.3">-N5</text><text class="f135" x="1980" y="1628.3">-N6</text>
<text class="f135" x="1079.5" y="1652.7">Black</text><text class="f135" x="1165" y="1652.7">Green</text><text class="f135" x="1272.5" y="1652.7">Green</text><text class="f135" x="1374" y="1652.7">Off</text><text class="f135" x="1475" y="1652.7">-P0</text><text class="f135" x="1582" y="1652.7">N/A</text><text class="f135" x="1662.6" y="1652.7">-P2</text><text class="f135" x="1730.7" y="1652.7">-P3</text><text class="f135" x="1809.3" y="1652.7">N/A</text><text class="f135" x="1895.6" y="1652.7">-P5</text><text class="f135" x="1980" y="1652.7">-P6</text>
<text class="f135" x="1079.5" y="1677.7">Black</text><text class="f135" x="1165" y="1677.7">Yellow</text><text class="f135" x="1272.5" y="1677.7">Yellow</text><text class="f135" x="1374" y="1677.7">Off</text><text class="f135" x="1475" y="1677.7">-R0</text><text class="f135" x="1582" y="1677.7">N/A</text><text class="f135" x="1662.6" y="1677.7">-R2</text><text class="f135" x="1730.7" y="1677.7">-R3</text><text class="f135" x="1809.3" y="1677.7">N/A</text><text class="f135" x="1895.6" y="1677.7">-R5</text><text class="f135" x="1980" y="1677.7">-R6</text>
</g>
<text class="m" style="font-size:22px" x="2086" y="1240">A</text><text class="m" style="font-size:22px" x="2086" y="1393">A</text><text class="m" style="font-size:22px" x="2086" y="1528.3">B</text><text class="m" style="font-size:22px" x="2086" y="1643.3">C</text>
<text class="f105" x="1079.5" y="1702.7">Notes:</text><text class="f105" x="1116.7" y="1702.7">A. Bezels of IAGBX, IUGBX, IEGBX, CUGBX, CEGBX are black.</text><text class="f105" x="1116.7" y="1716.7">B. Consult factory for other marking options.</text>
</g>

<g id="breakers" transform="translate(1840 0) scale(.3367 .3333)">
<use href="#brk"/><use href="#bt"/>
<path class="w" d="M497,100L583,97L625,295L535,300Z"/>
<path class="d" d="M505,112L535,180L580,238L640,235L625,295L535,298Z"/>
<path class="w" d="M510,112L575,105L610,195L640,235L580,238L535,180Z"/>
<path class="u" d="M540,182L600,185"/><rect class="d" x="551" y="138" width="4" height="18"/><ellipse class="u" cx="580" cy="203" rx="8" ry="10"/>
<text class="at" style="font-size:16px" x="548" y="132">ON</text><text class="at" style="font-size:14px" x="603" y="229">OFF</text>
<path class="t" d="M625,52H603L585,105M680,305H650L625,270"/>
<text class="a3" x="627" y="58">ROCKER HANDLE</text><text class="a3" x="644" y="79">COLOR</text><text class="a3" x="683" y="310">INDICATING</text><text class="a3" x="696" y="331">COLOR</text><text class="a3" x="190" y="443">LINE</text>
<text class="a4" x="428" y="465">INDICATION “ON”</text><text class="a4" x="383" y="488">MOUNTING/INDICATOR CODE:</text><text class="a4" x="518" y="512">A, B, C</text>

<use href="#brk" transform="translate(650 -5)"/><use href="#bt" transform="translate(650 -2)"/>
<path class="d" d="M1147,100L1230,97L1270,130L1275,295L1185,298Z"/>
<path class="w" d="M1197,145L1268,125L1258,170L1280,295L1190,295L1190,210Z"/>
<path class="u" d="M1195,207H1245"/><rect class="d" x="1224" y="165" width="4" height="18"/><ellipse class="u" cx="1222" cy="240" rx="6" ry="10"/>
<text class="at" style="font-size:16px" x="1228" y="157">ON</text><text class="at" style="font-size:16px" x="1228" y="275">OFF</text>
<path class="t" d="M1285,72H1265L1238,110M1322,213H1305L1245,240"/>
<text class="a3" x="1290" y="79">INDICATING COLOR</text><text class="a3" x="1322" y="220">ROCKER HANDLE</text><text class="a3" x="1340" y="241">COLOR</text><text class="a3" x="840" y="440">LINE</text>
<text class="a4" x="1053" y="485">INDICATION “OFF”</text><text class="a4" x="1018" y="508">MOUNTING/INDICATOR CODE:</text><text class="a4" x="1150" y="532">F, G, H</text>

<use href="#brk" transform="translate(293 913)"/><use href="#bt" transform="translate(293 905)"/>
<path class="d" d="M780,975L862,970L905,1000L910,1170L825,1170Z"/>
<path class="w" d="M832,1015L900,998L890,1050L910,1170L825,1160L822,1090Z"/>
<path class="u" d="M828,1078H878"/><rect class="d" x="855" y="1105" width="4" height="18"/><ellipse class="u" cx="860" cy="1050" rx="6" ry="10"/>
<text class="at" style="font-size:18px" x="860" y="1030">OFF</text><text class="at" style="font-size:18px" x="864" y="1147">ON</text>
<path class="d" d="M785,1290L815,1245L840,1240L850,1260L890,1240L905,1240L885,1275L830,1295Z"/>
<path class="t" d="M962,955H940L878,985M975,1152H945L885,1135"/>
<text class="a3" x="965" y="958">INDICATING COLOR</text><text class="a3" x="982" y="1156">ROCKER HANDLE</text><text class="a3" x="1000" y="1178">COLOR</text><text class="a3" x="420" y="1103">LINE</text>
<text class="a4" x="890" y="1318">INDICATION “ON”</text><text class="a4" x="847" y="1343">MOUNTING/INDICATOR CODE:</text><text class="a4" x="986" y="1367">J, K, L</text>
</g>

<g id="breaker4" transform="translate(1900 290) scale(.3333 .3827)">
<path class="u" d="M368,855L365,1095L385,1115L470,1180H597V1140H525M470,880V1180"/>
<path class="u" d="M368,852L430,845L590,885L597,925M368,852L470,880H490M490,925H597V1140M490,890V1140H470"/>
<path class="d" d="M480,895L520,890L530,915L490,920ZM535,892L585,888L590,915L540,918ZM430,850L480,860L475,868L430,858Z"/>
<circle class="d" cx="543" cy="938" r="11"/><circle class="d" cx="545" cy="1157" r="11"/>
<path class="u" d="M503,968H603L598,1130H503Z"/>
<path class="w" d="M510,982L590,980L610,998L590,1100H510L530,1040Z"/>
<path class="d" d="M510,1100H590L590,1112L510,1112Z"/>
<ellipse class="w" cx="460" cy="905" rx="6" ry="8"/><ellipse class="w" cx="373" cy="870" rx="6" ry="8"/><ellipse class="w" cx="375" cy="1100" rx="6" ry="8"/><ellipse class="w" cx="465" cy="1115" rx="6" ry="8"/>
</g>
<g id="breaker4text">
<text class="at" style="font-size:5px" x="2087.3" y="680">ON</text><rect class="d" x="2084" y="684" width="1" height="5"/><ellipse cx="2081.7" cy="700" rx="2" ry="1.8" fill="none" stroke="#222" stroke-width=".8"/><text class="at" style="font-size:5px" x="2079" y="708">OFF</text>
<text style="font-size:10px;fill:#333;transform:none" x="1991.7" y="712.9">LINE</text>
<text class="ac" x="2032" y="757.7">INDICATION “OFF”</text><text class="ac" x="2032" y="783">MOUNTING/INDICATOR CODE: M, N, P, R</text>
</g>

<g id="markingA">
<use href="#fv" x="1985.8" y="196.7"/><use href="#fv" x="2017.4" y="196.7"/><use href="#fv" x="2050.4" y="196.7"/><use href="#fh" x="2081.8" y="214.3"/><use href="#fh" x="2131.3" y="214.3"/><use href="#fh" x="2181.8" y="214.3"/>
<text class="at" x="1997" y="208">ON</text><text class="at" x="1997" y="229">OFF</text>
<rect class="d" x="2028.4" y="203" width="1.3" height="6"/><ellipse cx="2028.7" cy="227" rx="3" ry="1.8" fill="none" stroke="#222"/>
<text class="at" x="2061.5" y="207">ON</text><rect class="d" x="2061" y="209" width="1.2" height="6"/><ellipse cx="2061.6" cy="222" rx="2.6" ry="1.8" fill="none" stroke="#222"/><text class="at" x="2061.5" y="229">OFF</text>
<text class="at" x="2093" y="227">OFF</text><text class="at" x="2111" y="227">ON</text>
<ellipse cx="2141" cy="226" rx="2.6" ry="1.8" fill="none" stroke="#222"/><rect class="d" x="2161" y="222" width="1.3" height="7"/>
<text class="at" x="2193" y="224">OFF</text><ellipse cx="2192" cy="229" rx="2.6" ry="1.8" fill="none" stroke="#222"/><text class="at" x="2211" y="224">ON</text><rect class="d" x="2210.5" y="225" width="1.3" height="6"/>
<text class="a" style="font-size:7.6px" x="1963.6" y="206.7">LOAD</text><text class="a" style="font-size:7.6px" x="1963.6" y="230">LINE</text>
<text class="a" x="2081.8" y="210.7">LINE</text><text class="a" x="2106" y="210.7">LOAD</text><text class="a" x="2131.3" y="210.7">LINE</text><text class="a" x="2157" y="210.7">LOAD</text><text class="a" x="2181.8" y="210.7">LINE</text><text class="a" x="2206" y="210.7">LOAD</text>
<text class="a m" x="1995.2" y="246.7">FIG. 1</text><text class="a m" x="2027.2" y="246.7">FIG. 2</text><text class="a m" x="2060.5" y="247.3">FIG. 3</text><text class="a m" x="2101" y="247.3">FIG. 4</text><text class="a m" x="2150.4" y="246.7">FIG. 5</text><text class="a m" x="2201.6" y="246.7">FIG. 6</text>
<text class="am" x="2032.3" y="266.7">MARKING DETAIL “A” (SEE TABLE)</text>
</g>
<g id="markingB">
<use href="#fv" x="1979" y="494"/><use href="#fv" x="2010.7" y="494"/><use href="#fv" x="2043.7" y="494"/><use href="#fh" x="2075.3" y="511.5"/><use href="#fh" x="2124.7" y="511.5"/><use href="#fh" x="2175" y="511.5"/>
<text class="at" x="1990" y="504">OFF</text><text class="at" x="1990" y="527">ON</text>
<ellipse cx="2022" cy="503" rx="3" ry="1.8" fill="none" stroke="#222"/><rect class="d" x="2021.4" y="519" width="1.3" height="7"/>
<text class="at" x="2055" y="503">OFF</text><ellipse cx="2055" cy="507" rx="2.6" ry="1.8" fill="none" stroke="#222"/><rect class="d" x="2054.4" y="516" width="1.2" height="6"/><text class="at" x="2055" y="527">ON</text>
<text class="at" x="2086" y="524">ON</text><text class="at" x="2103" y="524">OFF</text>
<rect class="d" x="2134" y="519" width="1.3" height="7"/><ellipse cx="2154.5" cy="523.5" rx="2.6" ry="1.8" fill="none" stroke="#222"/>
<text class="at" x="2186" y="521">ON</text><rect class="d" x="2185" y="523" width="1.3" height="6"/><text class="at" x="2203" y="521">OFF</text><ellipse cx="2203" cy="525" rx="2.6" ry="1.8" fill="none" stroke="#222"/>
<text class="a" style="font-size:7.6px" x="1956.7" y="504.3">LINE</text><text class="a" style="font-size:7.6px" x="1956.7" y="527.3">LOAD</text>
<text class="a" x="2075.3" y="508">LOAD</text><text class="a" x="2099.7" y="508">LINE</text><text class="a" x="2124.7" y="508">LOAD</text><text class="a" x="2149.3" y="508">LINE</text><text class="a" x="2175" y="508">LOAD</text><text class="a" x="2199.3" y="508">LINE</text>
<text class="a m" x="1989" y="543.7">FIG. 1</text><text class="a m" x="2022" y="543.7">FIG. 2</text><text class="a m" x="2054.3" y="543.7">FIG. 3</text><text class="a m" x="2094.7" y="544.5">FIG. 4</text><text class="a m" x="2144.3" y="543.7">FIG. 5</text><text class="a m" x="2195.3" y="543.7">FIG. 6</text>
<text class="am" x="2027" y="564.8">MARKING DETAIL “B” (SEE TABLE)</text>
</g>
<g id="markingC">
<use href="#fv" x="2031" y="802"/><use href="#fv" x="2067.7" y="802"/><use href="#fh" x="2104" y="822.3"/>
<rect class="d" x="2042" y="808" width="1.3" height="6"/><ellipse cx="2042.5" cy="835" rx="2.6" ry="1.6" fill="none" stroke="#222"/>
<text class="at" x="2079" y="811">ON</text><rect class="d" x="2078.4" y="813" width="1.3" height="6"/><ellipse cx="2079" cy="829" rx="2.4" ry="1.6" fill="none" stroke="#222"/><text class="at" x="2079" y="836">OFF</text>
<text class="at" x="2115" y="831">OFF</text><ellipse cx="2114.5" cy="835" rx="2.4" ry="1.6" fill="none" stroke="#222"/><text class="at" x="2134" y="831">ON</text><rect class="d" x="2133.5" y="832" width="1.3" height="6"/>
<text class="a" x="2007.7" y="813.5">LOAD</text><text class="a" x="2009.3" y="837.3">LINE</text><text class="a" x="2104" y="818">LINE</text><text class="a" x="2126.7" y="817">LOAD</text>
<text class="a m" x="2042.3" y="857.5">FIG. 2</text><text class="a m" x="2078.3" y="857.5">FIG. 3</text><text class="a m" x="2125.7" y="857.5">FIG. 6</text>
<text class="am" x="1997" y="879.4" xml:space="preserve">MARKING DETAIL “C”  (SEE TABLE)</text>
</g>
</svg>
